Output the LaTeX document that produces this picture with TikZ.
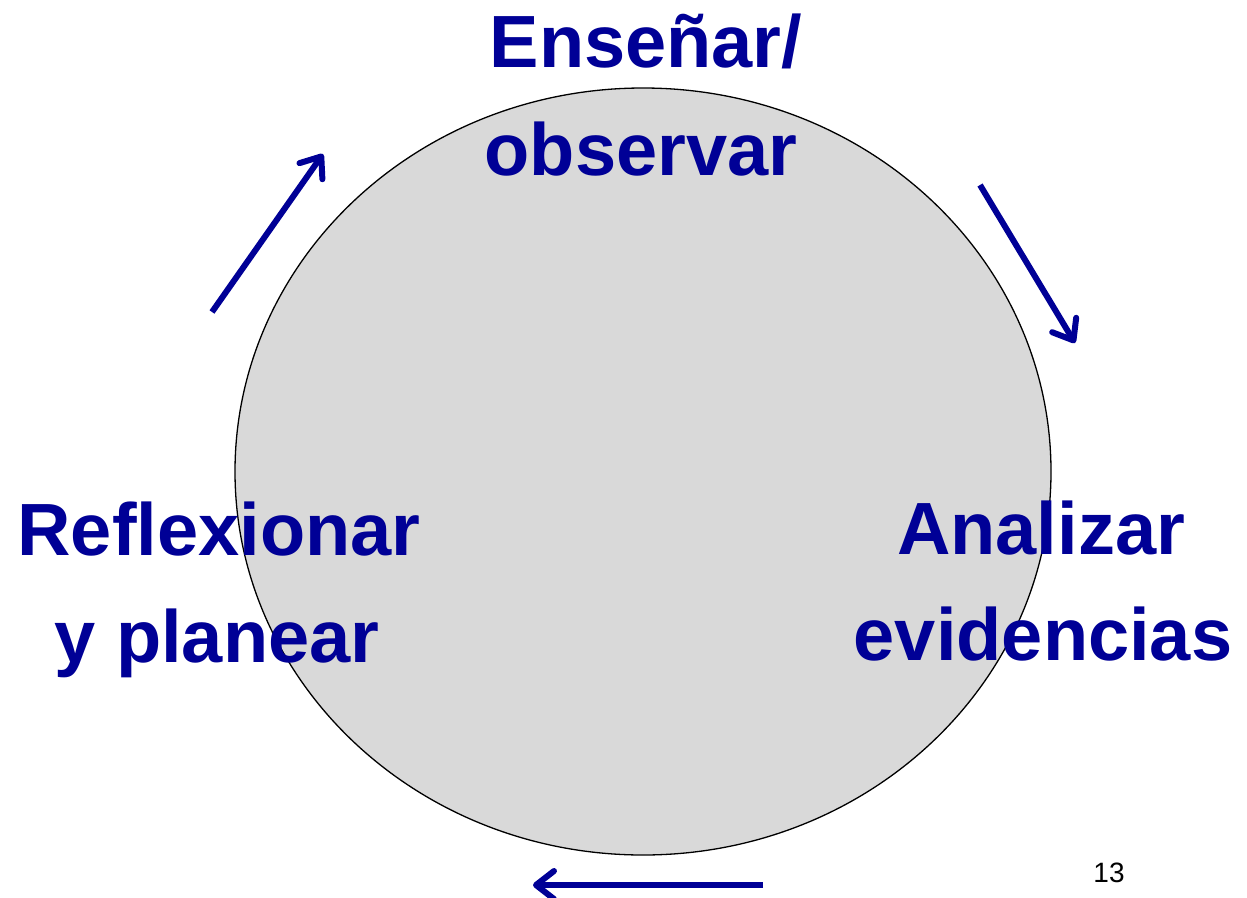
\documentclass[tikz,border=0pt]{standalone}
\usepackage{fontspec}
\setmainfont{Liberation Sans}
\usetikzlibrary{arrows.meta,shapes.geometric}
\definecolor{tblue}{RGB}{0,0,150}
\definecolor{cgray}{RGB}{217,217,217}
\begin{document}
\begin{tikzpicture}[x=1pt,y=-1pt,
  lbl/.style={font=\fontsize{74}{108}\selectfont\bfseries, text=tblue, inner sep=0pt, anchor=base},
  cycarrow/.style={draw=tblue, line width=6pt, -{Straight Barb[length=18pt,width=28pt,round]}},
]
\useasboundingbox (0,0) rectangle (1247,897);
\node[draw=black, line width=1.3pt, ellipse, fill=cgray, minimum width=816pt, minimum height=767pt, inner sep=0pt, outer sep=0pt] (cyc) at (643,471.5) {};
\node[lbl] (ens1) at (646,67) {Enseñar/};
\node[lbl] (ens2) at (641,175) {observar};
\node[lbl] (ref1) at (219,555) {Reflexionar};
\node[lbl] (ref2) at (217,662) {y planear};
\node[lbl] (ana1) at (1041,554) {Analizar};
\node[lbl] (ana2) at (1043,660) {evidencias};
\node[font=\fontsize{28}{32}\selectfont, inner sep=0pt, anchor=base] (num) at (1109,882) {13};
\coordinate (a1s) at (212,312);
\coordinate (a1e) at (323,154);
\coordinate (a2s) at (980,185);
\coordinate (a2e) at (1075,343);
\coordinate (a3s) at (763,885);
\coordinate (a3e) at (533,885);
\draw[cycarrow] (a1s) -- (a1e);
\draw[cycarrow] (a2s) -- (a2e);
\draw[cycarrow] (a3s) -- (a3e);
\end{tikzpicture}
\end{document}
